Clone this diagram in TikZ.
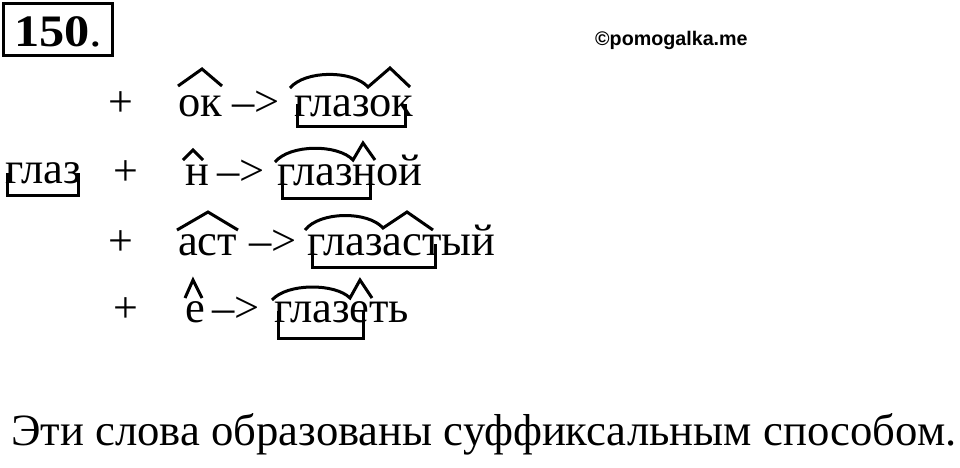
\documentclass[tikz,border=0pt]{standalone}
\usepackage{fontspec}
\setmainfont{Liberation Serif}
\newfontfamily\webfont{Liberation Sans}
\begin{document}
\begin{tikzpicture}[x=1pt,y=-1pt,
  txt/.style={anchor=base west,inner sep=0pt,font=\fontsize{44.5}{50}\selectfont},
  plus/.style={anchor=base,inner sep=0pt,font=\fontsize{44}{50}\selectfont},
  morph/.style={line width=3pt,line join=miter},
  brk/.style={line width=3pt}]
\useasboundingbox[fill=white] (0,0) rectangle (960,467);
% title
\draw[line width=3pt] (3,3) rectangle (112,55);
\node[anchor=base west,inner sep=0pt,xscale=1.12,font=\fontsize{45}{50}\selectfont] (num) at (14,46) {\textbf{150}.};
\node[anchor=base west,inner sep=0pt,font=\webfont\bfseries\fontsize{19.7}{22}\selectfont] (web) at (595,45) {©pomogalka.me};
% left root
\node[txt] (root) at (5,183) {глаз};
\draw[brk] (7,173) |- (78,195) -- (78,173);
% plus signs
\node[plus] (p1) at (121,116) {+};
\node[plus] (p2) at (126,185) {+};
\node[plus] (p3) at (121,255) {+};
\node[plus] (p4) at (126,322) {+};
% row 1
\node[txt] (s1) at (178,116) {ок};
\node[txt] (a1) at (232,116) {–>};
\node[txt] (w1) at (294,116) {глазок};
\draw[morph] (178,86) -- (202,69) -- (222,86);
\draw[morph] (290,88) .. controls (305,70) and (353,70) .. (368,87) -- (390,68) -- (410,87);
\draw[brk] (297,104) |- (405,126) -- (405,104);
% row 2
\node[txt] (s2) at (185,185) {н};
\node[txt] (a2) at (217,185) {–>};
\node[txt] (w2) at (277,185) {глазной};
\draw[morph] (183,160) -- (193,150) -- (203,160);
\draw[morph] (275,162) .. controls (290,144) and (338,144) .. (353,160) -- (363,143) -- (375,160);
\draw[brk] (282,174) |- (370,198) -- (370,174);
% row 3
\node[txt] (s3) at (178,255) {аст};
\node[txt] (a3) at (249,255) {–>};
\node[txt] (w3) at (307,255) {глазастый};
\draw[morph] (177,230) -- (208,212) -- (238,230);
\draw[morph] (305,230) .. controls (320,211) and (368,211) .. (383,228) -- (407,212) -- (433,230);
\draw[brk] (312,244) |- (435,267) -- (435,244);
% row 4
\node[txt] (s4) at (185,322) {е};
\node[txt] (a4) at (212,322) {–>};
\node[txt] (w4) at (274,322) {глазеть};
\draw[morph] (185,298) -- (193,280) -- (202,298);
\draw[morph] (272,300) .. controls (287,283) and (335,283) .. (350,298) -- (360,280) -- (372,298);
\draw[brk] (278,311) |- (363,338) -- (363,311);
% conclusion
\node[anchor=base west,inner sep=0pt,font=\fontsize{44.7}{50}\selectfont] (concl) at (11,445) {Эти слова образованы суффиксальным способом.};
\end{tikzpicture}
\end{document}
